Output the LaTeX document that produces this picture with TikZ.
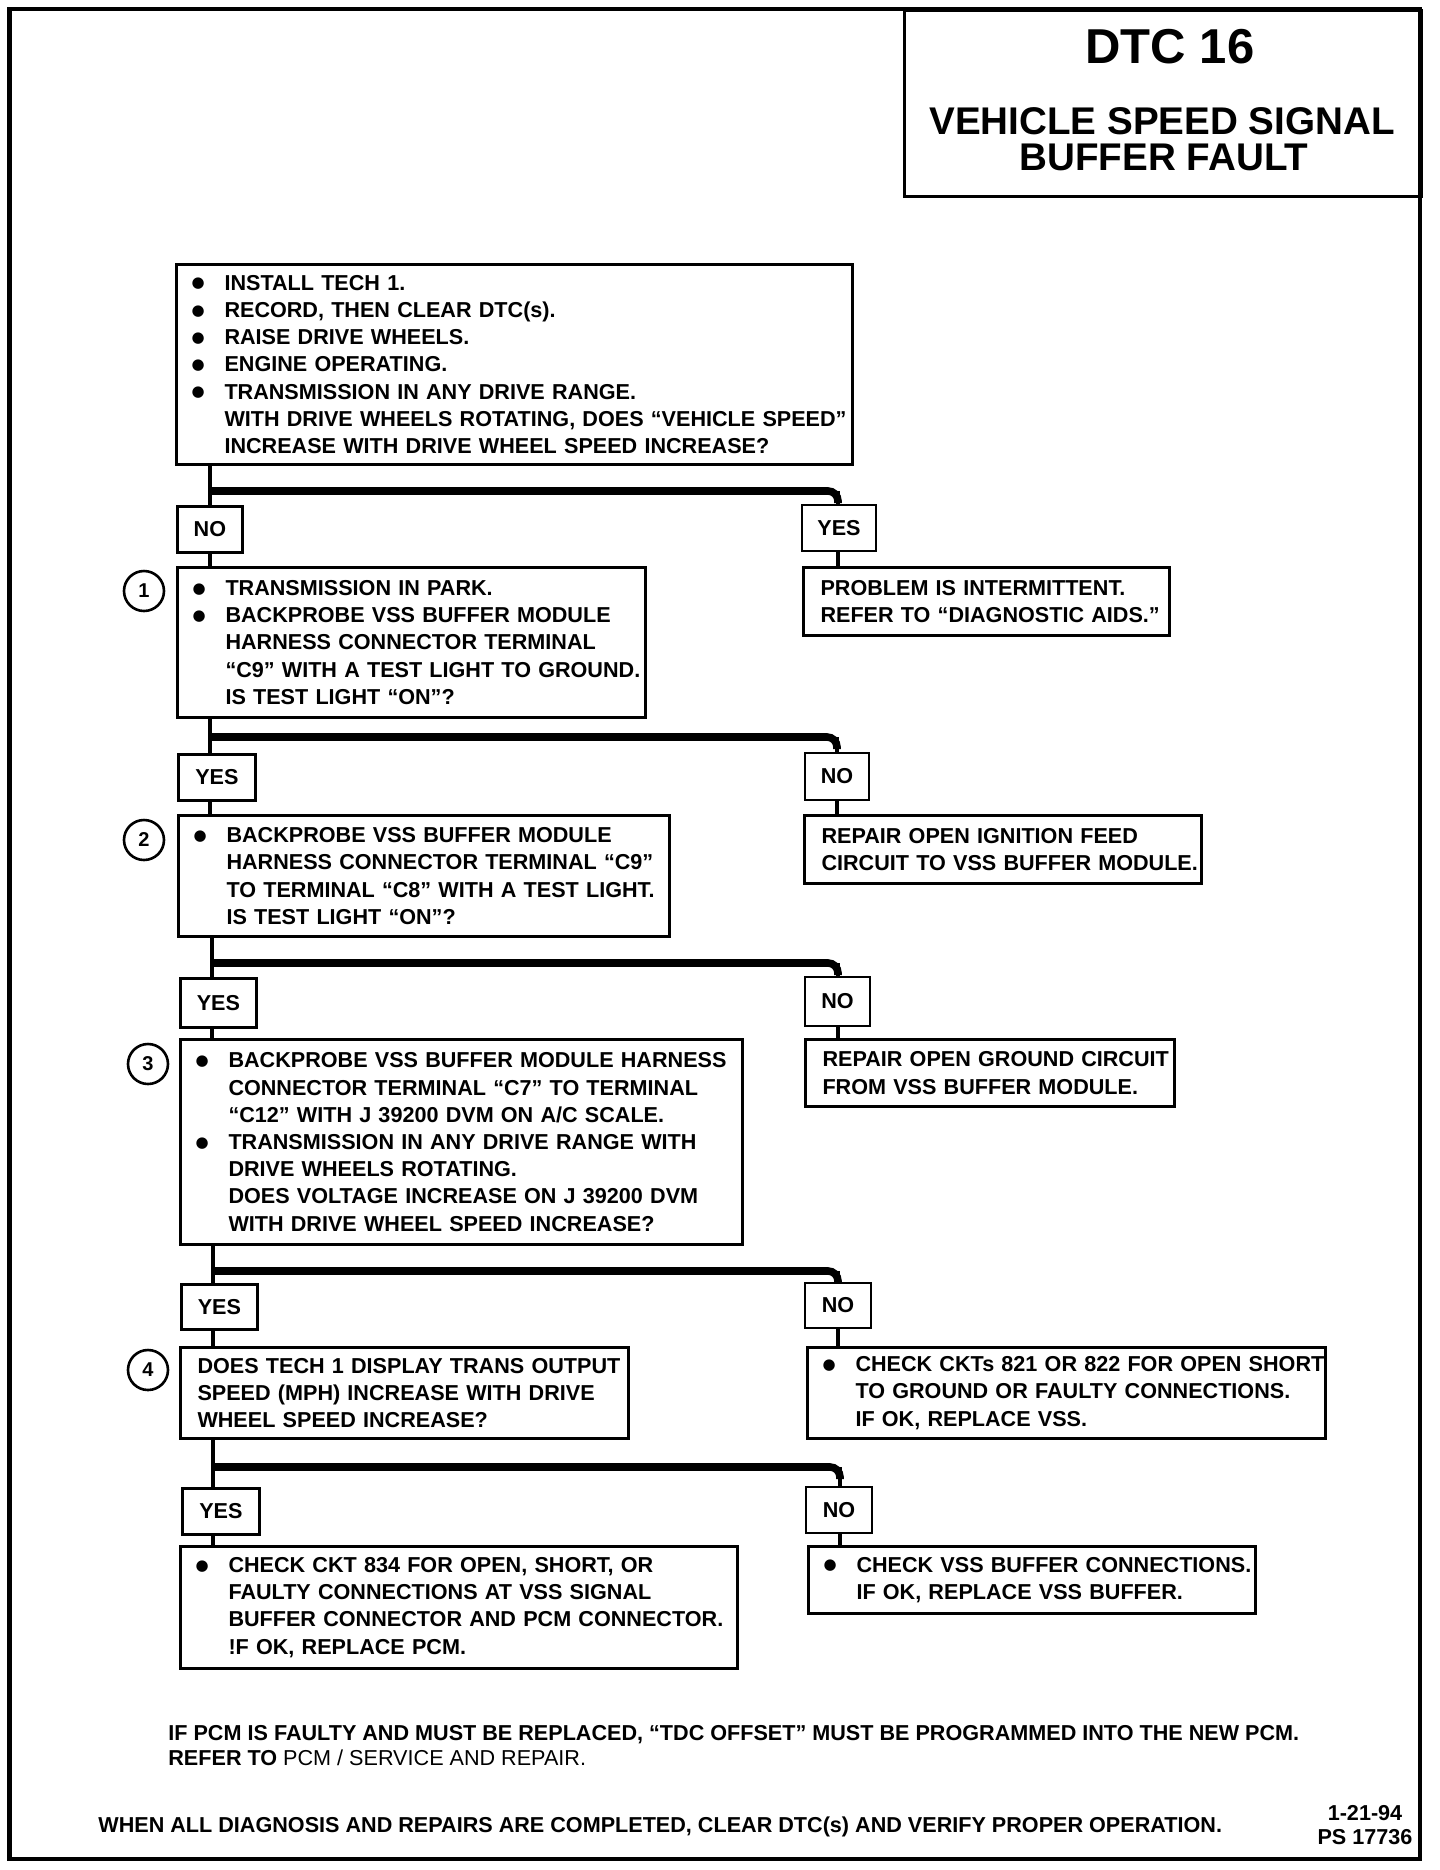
\documentclass[tikz,border=0pt]{standalone}
\usepackage{fontspec}
\setmainfont{Liberation Sans}
\newfontfamily\symfont{DejaVu Sans}
\newcommand{\bodyf}{\fontsize{10.8}{13.6}\selectfont\bfseries}
\newcommand{\bul}{\makebox[16.5pt][l]{\raisebox{1.2pt}{\symfont\fontsize{7.5}{9}\selectfont ●}}}
\newcommand{\bl}[1]{\mbox{\bul#1}}
\newcommand{\cl}[1]{\mbox{\hspace{16.5pt}#1}}
\newcommand{\pl}[1]{\mbox{#1}}
\tikzset{
  frame/.style={draw, line width=1.5pt, anchor=north west, inner ysep=0pt, align=left, font=\bodyf},
  bbox/.style={frame, inner xsep=7.5pt},
  pbox/.style={frame, inner xsep=8.5pt},
  lab/.style={draw, line width=1.4pt, font=\bodyf, inner sep=0pt, minimum height=23pt},
  conn/.style={line width=2.4pt},
  bar/.style={line width=3.8pt, rounded corners=5pt},
  num/.style={draw, circle, line width=1.3pt, minimum size=20pt, inner sep=0pt, font=\fontsize{10}{12}\selectfont\bfseries},
  ttl/.style={inner sep=0pt, font=\fontsize{19.3}{17}\selectfont\bfseries},
  plain/.style={inner sep=0pt, font=\bodyf}
}
\begin{document}
\begin{tikzpicture}[x=0.5pt,y=-0.5pt]
\useasboundingbox (0,0) rectangle (1440,1870);
% outer frame and title
\draw[line width=2.4pt] (9.5,9) rectangle (1420,1859);
\node[draw, line width=1.5pt, anchor=north west, minimum width=258.5pt, minimum height=93pt, inner sep=0pt] (title) at (903,9) {};
\node[ttl, font=\fontsize{24.5}{26}\selectfont\bfseries] (dtc) at (1170,47) {DTC 16};
\node[ttl] (tla) at (1162,121) {VEHICLE SPEED SIGNAL};
\node[ttl] (tlb) at (1164,157) {BUFFER FAULT};

% step 0
\node[bbox, text width=323pt, minimum height=100pt] (b0) at (175,263) {%
\bl{INSTALL TECH 1.}\\
\bl{RECORD, THEN CLEAR DTC(s).}\\
\bl{RAISE DRIVE WHEELS.}\\
\bl{ENGINE OPERATING.}\\
\bl{TRANSMISSION IN ANY DRIVE RANGE.}\\
\cl{WITH DRIVE WHEELS ROTATING, DOES “VEHICLE SPEED”}\\
\cl{INCREASE WITH DRIVE WHEEL SPEED INCREASE?}};

\coordinate (t1) at (210,491);
\coordinate (r1) at (838,491);
\node[lab, anchor=north west, minimum width=32.5pt] (no1) at (176,505) {NO};
\node[lab, minimum width=37pt] (yes1) at (839,528) {YES};

% step 1
\node[num] (c1) at (144,591) {1};
\node[bbox, text width=219pt, minimum height=75pt] (b1) at (176,566) {%
\bl{TRANSMISSION IN PARK.}\\
\bl{BACKPROBE VSS BUFFER MODULE}\\
\cl{HARNESS CONNECTOR TERMINAL}\\
\cl{“C9” WITH A TEST LIGHT TO GROUND.}\\
\cl{IS TEST LIGHT “ON”?}};
\node[pbox, text width=166pt, minimum height=34pt] (prob) at (802,566) {%
\pl{PROBLEM IS INTERMITTENT.}\\
\pl{REFER TO “DIAGNOSTIC AIDS.”}};

\coordinate (t2) at (210,737);
\coordinate (r2) at (837,737);
\node[lab, anchor=north west, minimum width=38.5pt] (yes2) at (177,753) {YES};
\node[lab, minimum width=32pt, minimum height=23.5pt] (no2) at (837,776.5) {NO};

% step 2
\node[num] (c2) at (144,840) {2};
\node[bbox, text width=230.5pt, minimum height=60.5pt] (b2) at (177,814) {%
\bl{BACKPROBE VSS BUFFER MODULE}\\
\cl{HARNESS CONNECTOR TERMINAL “C9”}\\
\cl{TO TERMINAL “C8” WITH A TEST LIGHT.}\\
\cl{IS TEST LIGHT “ON”?}};
\node[pbox, text width=181.5pt, minimum height=34pt] (rep1) at (803,814) {%
\pl{REPAIR OPEN IGNITION FEED}\\
\pl{CIRCUIT TO VSS BUFFER MODULE.}};

\coordinate (t3) at (212,963);
\coordinate (r3) at (838,963);
\node[lab, anchor=north west, minimum width=38pt, minimum height=24.5pt] (yes3) at (179,977) {YES};
\node[lab, minimum width=32.5pt, minimum height=24.5pt] (no3) at (837.5,1001.5) {NO};

% step 3
\node[num] (c3) at (148,1064) {3};
\node[bbox, text width=266pt, minimum height=102.5pt] (b3) at (179,1038) {%
\bl{BACKPROBE VSS BUFFER MODULE HARNESS}\\
\cl{CONNECTOR TERMINAL “C7” TO TERMINAL}\\
\cl{“C12” WITH J 39200 DVM ON A/C SCALE.}\\
\bl{TRANSMISSION IN ANY DRIVE RANGE WITH}\\
\cl{DRIVE WHEELS ROTATING.}\\
\cl{DOES VOLTAGE INCREASE ON J 39200 DVM}\\
\cl{WITH DRIVE WHEEL SPEED INCREASE?}};
\node[pbox, text width=167.5pt, minimum height=33.5pt] (rep2) at (804,1038) {%
\pl{REPAIR OPEN GROUND CIRCUIT}\\
\pl{FROM VSS BUFFER MODULE.}};

\coordinate (t4) at (213,1271);
\coordinate (r4) at (838,1271);
\node[lab, anchor=north west, minimum width=38pt, minimum height=22.5pt] (yes4) at (180,1283) {YES};
\node[lab, minimum width=33pt, minimum height=22.5pt] (no4) at (838,1305.5) {NO};

% step 4
\node[num] (c4) at (148,1370) {4};
\node[pbox, text width=207pt, minimum height=45.5pt] (b4) at (179,1346) {%
\pl{DOES TECH 1 DISPLAY TRANS OUTPUT}\\
\pl{SPEED (MPH) INCREASE WITH DRIVE}\\
\pl{WHEEL SPEED INCREASE?}};
\node[bbox, text width=244pt, minimum height=45.5pt] (ckt) at (806,1346) {%
\bl{CHECK CKTs 821 OR 822 FOR OPEN SHORT}\\
\cl{TO GROUND OR FAULTY CONNECTIONS.}\\
\cl{IF OK, REPLACE VSS.}};

\coordinate (t5) at (213,1467);
\coordinate (r5) at (840,1467);
\node[lab, anchor=north west, minimum width=38.5pt] (yes5) at (181,1487) {YES};
\node[lab, minimum width=33pt] (no5) at (839,1510) {NO};

% final boxes
\node[bbox, text width=263.5pt, minimum height=61pt] (b5) at (179,1545) {%
\bl{CHECK CKT 834 FOR OPEN, SHORT, OR}\\
\cl{FAULTY CONNECTIONS AT VSS SIGNAL}\\
\cl{BUFFER CONNECTOR AND PCM CONNECTOR.}\\
\cl{!F OK, REPLACE PCM.}};
\node[bbox, text width=208.5pt, minimum height=33.5pt] (vss) at (807,1545) {%
\bl{CHECK VSS BUFFER CONNECTIONS.}\\
\cl{IF OK, REPLACE VSS BUFFER.}};

% connectors
\draw[conn] (b0.south -| t1) -- (no1.north -| t1);
\draw[bar] (t1) -- (r1) -- ++(0,12);
\draw[conn] (r1) -- (yes1.north -| r1);
\draw[conn] (no1.south -| t1) -- (b1.north -| t1);
\draw[conn] (yes1.south -| r1) -- (prob.north -| r1);

\draw[conn] (b1.south -| t2) -- (yes2.north -| t2);
\draw[bar] (t2) -- (r2) -- ++(0,12);
\draw[conn] (r2) -- (no2.north -| r2);
\draw[conn] (yes2.south -| t2) -- (b2.north -| t2);
\draw[conn] (no2.south -| r2) -- (rep1.north -| r2);

\draw[conn] (b2.south -| t3) -- (yes3.north -| t3);
\draw[bar] (t3) -- (r3) -- ++(0,12);
\draw[conn] (r3) -- (no3.north -| r3);
\draw[conn] (yes3.south -| t3) -- (b3.north -| t3);
\draw[conn] (no3.south -| r3) -- (rep2.north -| r3);

\draw[conn] (b3.south -| t4) -- (yes4.north -| t4);
\draw[bar] (t4) -- (r4) -- ++(0,12);
\draw[conn] (r4) -- (no4.north -| r4);
\draw[conn] (yes4.south -| t4) -- (b4.north -| t4);
\draw[conn] (no4.south -| r4) -- (ckt.north -| r4);

\draw[conn] (b4.south -| t5) -- (yes5.north -| t5);
\draw[bar] (t5) -- (r5) -- ++(0,12);
\draw[conn] (r5) -- (no5.north -| r5);
\draw[conn] (yes5.south -| t5) -- (b5.north -| t5);
\draw[conn] (no5.south -| r5) -- (vss.north -| r5);

% notes
\node[plain, anchor=north west, align=left, font=\fontsize{10.8}{12.5}\selectfont\bfseries] (note) at (168,1725) {%
IF PCM IS FAULTY AND MUST BE REPLACED, “TDC OFFSET” MUST BE PROGRAMMED INTO THE NEW PCM.\\
REFER TO {\mdseries PCM / SERVICE AND REPAIR.}};
\node[plain, anchor=base west] (done) at (98,1832) {WHEN ALL DIAGNOSIS AND REPAIRS ARE COMPLETED, CLEAR DTC(s) AND VERIFY PROPER OPERATION.};
\node[plain, anchor=base] (date) at (1365,1820) {1-21-94};
\node[plain, anchor=base] (ps) at (1365,1844) {PS 17736};
\end{tikzpicture}
\end{document}
